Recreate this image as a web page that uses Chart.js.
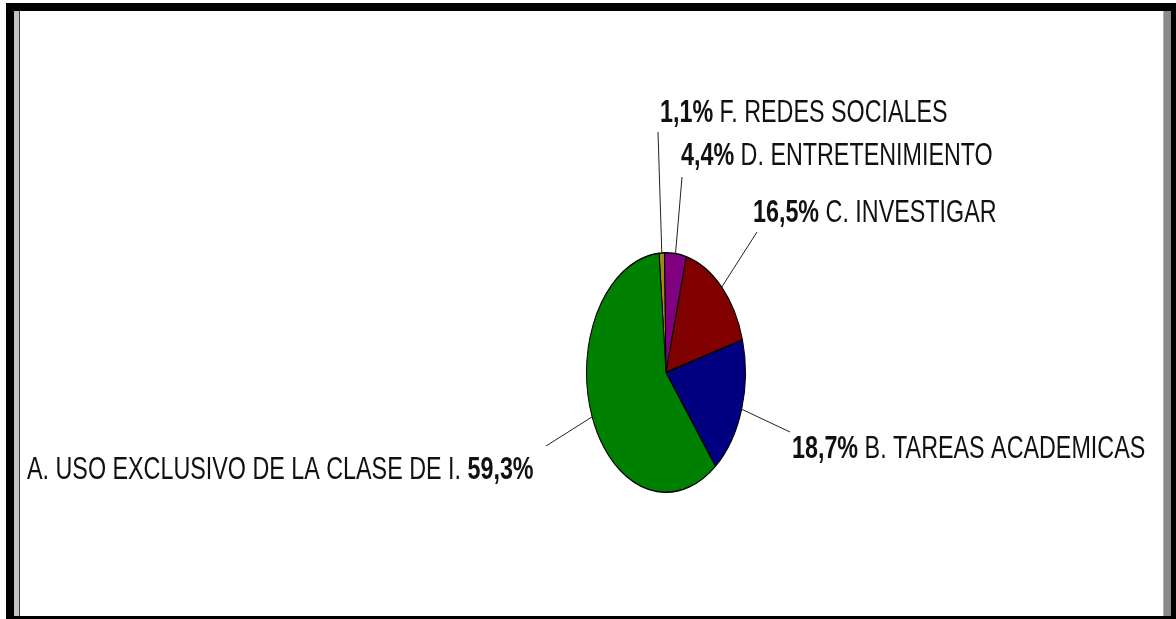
<!DOCTYPE HTML>
<html>
<head>
	<meta charset="utf-8" />
	<title>Uso de la computadora</title>
	<script src="https://cdn.jsdelivr.net/npm/chart.js@4.4.1/dist/chart.umd.min.js"></script>
	<style>
		body { margin:0; background:#fff; }
		#wrap { width:1176px; height:619px; position:relative; }
	</style>
</head>
<body>
	<div id="wrap">
		<canvas id="pie_chart" width="1176" height="619"></canvas>
	</div>

<script>
var categorias = ['F. REDES SOCIALES', 'D. ENTRETENIMIENTO', 'C. INVESTIGAR', 'B. TAREAS ACADEMICAS', 'A. USO EXCLUSIVO DE LA CLASE DE I.'];
var porcentajes = [1.1, 4.4, 16.5, 18.7, 59.3];
var textoPct = ['1,1%', '4,4%', '16,5%', '18,7%', '59,3%'];
var colores = ['#a08c12', '#800080', '#800000', '#000080', '#008000'];

// label spot (x, baseline), end of leader line, and whether % goes first
var etiquetas = [
	{x:660, y:122, lx:658, ly:132, pctPrimero:true},
	{x:681, y:165, lx:682, ly:177, pctPrimero:true},
	{x:753, y:222, lx:757, ly:232, pctPrimero:true},
	{x:792, y:458, lx:790, ly:432, pctPrimero:true},
	{x:27,  y:479, lx:546, ly:446, pctPrimero:false}
];

var ANCHO_X = 0.664;   // the pie is drawn as a tall ellipse
var ESTRECHO = 0.752;  // narrow text
var FUENTE = '"Liberation Sans", Arial, sans-serif';

var marco = {
	id:'marco',
	beforeDraw:function(chart)
	{
		var ctx = chart.ctx;
		ctx.save();
		ctx.fillStyle = '#fff';
		ctx.fillRect(0, 0, 1176, 619);
		ctx.fillStyle = '#000';
		ctx.fillRect(6, 3, 1170, 8);
		ctx.fillRect(6, 3, 8, 616);
		ctx.fillRect(6, 616, 1170, 3);
		ctx.fillRect(1171, 3, 5, 616);
		ctx.fillStyle = '#c4c4c4';
		ctx.fillRect(14, 11, 5, 605);
		ctx.fillStyle = '#3a3a3a';
		ctx.fillRect(19, 11, 1, 605);
		ctx.fillStyle = '#8a8a8a';
		ctx.fillRect(1164, 11, 7, 605);
		ctx.fillStyle = '#b0b0b0';
		ctx.fillRect(1163, 11, 1, 605);
		ctx.restore();
	}
};

var elipse = {
	id:'elipse',
	beforeDatasetsDraw:function(chart)
	{
		var arc = chart.getDatasetMeta(0).data[0];
		var ctx = chart.ctx;
		ctx.save();
		ctx.translate(arc.x, arc.y);
		ctx.scale(ANCHO_X, 1);
		ctx.translate(-arc.x, -arc.y);
	},
	afterDatasetsDraw:function(chart)
	{
		chart.ctx.restore();
	}
};

var rotulos = {
	id:'rotulos',
	afterDraw:function(chart)
	{
		var ctx = chart.ctx;
		var meta = chart.getDatasetMeta(0);
		ctx.save();
		for(var i = 0; i < meta.data.length; i++)
		{
			var arc = meta.data[i];
			var e = etiquetas[i];
			var mid = (arc.startAngle + arc.endAngle) / 2;
			var px = arc.x + Math.cos(mid) * arc.outerRadius * ANCHO_X;
			var py = arc.y + Math.sin(mid) * arc.outerRadius;

			ctx.strokeStyle = '#222';
			ctx.lineWidth = 1;
			ctx.beginPath();
			ctx.moveTo(px, py);
			ctx.lineTo(e.lx, e.ly);
			ctx.stroke();

			ctx.save();
			ctx.translate(e.x, e.y);
			ctx.scale(ESTRECHO, 1);
			ctx.fillStyle = '#111';
			ctx.textBaseline = 'alphabetic';
			ctx.textAlign = 'left';
			var negrita = 'bold 31px ' + FUENTE;
			var normal = '31px ' + FUENTE;
			if(e.pctPrimero)
			{
				ctx.font = negrita;
				ctx.fillText(textoPct[i], 0, 0);
				var w = ctx.measureText(textoPct[i] + ' ').width;
				ctx.font = normal;
				ctx.fillText(categorias[i], w, 0);
			}
			else
			{
				ctx.font = normal;
				ctx.fillText(categorias[i], 0, 0);
				var w2 = ctx.measureText(categorias[i] + ' ').width;
				ctx.font = negrita;
				ctx.fillText(textoPct[i], w2, 0);
			}
			ctx.restore();
		}
		ctx.restore();
	}
};

var chart_data = {
	labels:categorias,
	datasets:[
		{
			data:porcentajes,
			backgroundColor:colores,
			borderColor:'#000',
			borderWidth:1.5
		}
	]
};

var chart1 = new Chart(document.getElementById('pie_chart'), {
	type:'pie',
	data:chart_data,
	plugins:[marco, elipse, rotulos],
	options:{
		responsive:false,
		animation:false,
		rotation:-5,
		layout:{ padding:{ top:252, bottom:126, left:466, right:310 } },
		plugins:{
			legend:{ display:false },
			tooltip:{ enabled:false }
		}
	}
});
</script>
</body>
</html>
